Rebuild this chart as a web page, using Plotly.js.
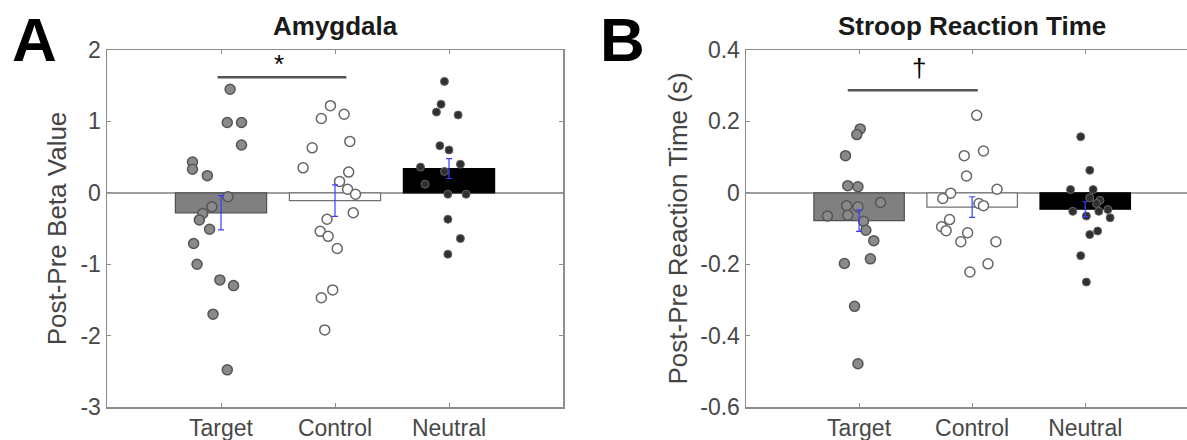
<!DOCTYPE html>
<html>
<head>
<meta charset="utf-8">
<script src="https://cdn.plot.ly/plotly-3.0.1.min.js"></script>
<style>html,body{margin:0;padding:0;background:#fff;}#chart{width:1187px;height:440px;}</style>
</head>
<body>
<div id="chart"></div>
<script>
// ---------- data ----------
const categories = ['Target', 'Control', 'Neutral'];
const catX = [1, 2, 3];

// Panel A: Amygdala (post-pre beta value)
const amyMeans = [-0.28, -0.11, 0.34];
const amySE = [0.24, 0.22, 0.14];
const amyTargetX = [1.08, 1.055, 1.18, 1.18, 0.75, 0.75, 0.88, 1.06, 0.92, 0.84, 0.81, 0.90, 0.76, 0.79, 0.99, 1.11, 0.93, 1.055];
const amyTargetY = [1.45, 0.985, 0.985, 0.67, 0.43, 0.33, 0.24, -0.056, -0.196, -0.29, -0.38, -0.51, -0.71, -1.0, -1.22, -1.30, -1.70, -2.48];
const amyControlX = [1.96, 2.08, 1.88, 2.13, 1.80, 1.72, 2.12, 2.04, 2.11, 2.18, 2.16, 1.93, 1.87, 1.94, 2.02, 1.98, 1.88, 1.91];
const amyControlY = [1.22, 1.10, 1.04, 0.72, 0.63, 0.35, 0.29, 0.16, 0.05, -0.02, -0.28, -0.37, -0.54, -0.61, -0.78, -1.36, -1.47, -1.92];
const amyNeutralX = [2.96, 2.93, 2.89, 3.08, 2.92, 3.00, 3.10, 2.75, 2.96, 2.79, 2.99, 3.15, 2.99, 3.10, 2.99];
const amyNeutralY = [1.56, 1.24, 1.13, 1.09, 0.66, 0.60, 0.40, 0.36, 0.30, 0.12, -0.02, -0.02, -0.37, -0.64, -0.86];
const amySigX = [0.97, 2.10];
const amySigY = [1.62, 1.62];
const amySigMark = {text: '*', x: 1.51, y: 1.80};
const amyTickVals = [-3, -2, -1, 0, 1, 2];
const amyTickText = ['-3', '-2', '-1', '0', '1', '2'];

// Panel B: Stroop reaction time (s)
const rtMeans = [-0.078, -0.040, -0.046];
const rtSE = [0.030, 0.029, 0.021];
const rtTargetX = [1.01, 0.98, 0.88, 0.90, 0.99, 1.19, 0.89, 0.99, 0.72, 0.90, 1.04, 1.06, 1.13, 1.10, 0.87, 0.96, 0.99];
const rtTargetY = [0.179, 0.163, 0.104, 0.020, 0.017, -0.027, -0.036, -0.039, -0.065, -0.063, -0.080, -0.105, -0.134, -0.185, -0.198, -0.318, -0.479];
const rtControlX = [2.04, 2.10, 1.93, 1.95, 2.22, 1.81, 1.74, 2.06, 2.10, 1.80, 1.73, 1.77, 1.96, 1.90, 2.21, 2.14, 1.98];
const rtControlY = [0.217, 0.117, 0.104, 0.047, 0.010, -0.001, -0.016, -0.030, -0.036, -0.075, -0.095, -0.106, -0.112, -0.137, -0.137, -0.199, -0.222];
const rtNeutralX = [2.96, 3.04, 2.87, 3.07, 3.04, 3.13, 3.10, 2.89, 3.12, 3.20, 3.01, 3.22, 3.11, 3.04, 2.96, 3.01];
const rtNeutralY = [0.157, 0.063, 0.009, 0.009, -0.014, -0.021, -0.030, -0.052, -0.052, -0.047, -0.065, -0.070, -0.107, -0.117, -0.176, -0.250];
const rtSigX = [0.90, 2.05];
const rtSigY = [0.287, 0.287];
const rtSigMark = {text: '\u2020', x: 1.53, y: 0.35};
const rtTickVals = [-0.6, -0.4, -0.2, 0, 0.2, 0.4];
const rtTickText = ['-0.6', '-0.4', '-0.2', '0', '0.2', '0.4'];

// ---------- styling ----------
const W = 1187, H = 440;
const FONT = 'Liberation Sans, Arial, Helvetica, sans-serif';
const axisGray = '#8c8c8c';
const tickFont = {family: FONT, size: 23, color: '#484848'};
const barFill = ['#808080', '#ffffff', '#000000'];
const barEdge = ['#505050', '#707070', '#000000'];
const targetMarker = {size: 10, color: '#8a8a8a', line: {color: '#555', width: 1.5}};
const controlMarker = {size: 10, color: '#ffffff', line: {color: '#666', width: 1.5}};
const neutralMarker = {size: 8, color: '#303030', line: {color: '#666', width: 1}};

function panelTraces(xa, ya, means, se, tX, tY, cX, cY, nX, nY, sigX, sigY) {
  return [
    {type: 'bar', x: catX, y: means, width: 0.8, xaxis: xa, yaxis: ya,
     marker: {color: barFill, line: {color: barEdge, width: 1.2}}, hoverinfo: 'skip'},
    {type: 'scatter', mode: 'markers', x: tX, y: tY, xaxis: xa, yaxis: ya, marker: targetMarker, hoverinfo: 'skip'},
    {type: 'scatter', mode: 'markers', x: cX, y: cY, xaxis: xa, yaxis: ya, marker: controlMarker, hoverinfo: 'skip'},
    {type: 'scatter', mode: 'markers', x: nX, y: nY, xaxis: xa, yaxis: ya, marker: neutralMarker, hoverinfo: 'skip'},
    {type: 'scatter', mode: 'markers', x: catX, y: means, xaxis: xa, yaxis: ya,
     marker: {size: 1, color: 'rgba(0,0,0,0)'},
     error_y: {type: 'data', array: se, visible: true, color: '#3c3cff', thickness: 1.2, width: 3}, hoverinfo: 'skip'},
    {type: 'scatter', mode: 'lines', x: sigX, y: sigY, xaxis: xa, yaxis: ya,
     line: {color: '#555', width: 2.5}, hoverinfo: 'skip'}
  ];
}

const data = [].concat(
  panelTraces('x', 'y', amyMeans, amySE, amyTargetX, amyTargetY, amyControlX, amyControlY, amyNeutralX, amyNeutralY, amySigX, amySigY),
  panelTraces('x2', 'y2', rtMeans, rtSE, rtTargetX, rtTargetY, rtControlX, rtControlY, rtNeutralX, rtNeutralY, rtSigX, rtSigY)
);

const yDom = [1 - 407 / H, 1 - 50 / H];
function xAxis(domain, range, mirror) {
  return {domain: domain, range: range, tickvals: catX, ticktext: categories, tickfont: tickFont,
    ticks: 'inside', ticklen: 4, tickcolor: axisGray, tickwidth: 1,
    showline: true, linecolor: axisGray, linewidth: 1.5, mirror: mirror,
    showgrid: false, zeroline: false, fixedrange: true};
}
function yAxis(domain, range, vals, text, title, standoff, mirror) {
  return {domain: domain, range: range, tickvals: vals, ticktext: text, tickfont: tickFont,
    ticks: 'inside', ticklen: 4, tickcolor: axisGray, tickwidth: 1,
    showline: true, linecolor: axisGray, linewidth: 1.5, mirror: mirror,
    showgrid: false, zeroline: true, zerolinecolor: '#a0a0a0', zerolinewidth: 1.5,
    title: {text: title, font: {family: FONT, size: 26, color: '#444'}, standoff: standoff},
    fixedrange: true};
}

const xA = xAxis([107 / W, 563 / W], [0, 4], 'ticks');
xA.anchor = 'y';
const xB = xAxis([746 / W, 1], [0, 3.9], 'ticks');
xB.anchor = 'y2';
const yA = yAxis(yDom, [-3, 2], amyTickVals, amyTickText, 'Post-Pre Beta Value', 6, 'ticks');
yA.anchor = 'x';
const yB = yAxis(yDom, [-0.6, 0.4], rtTickVals, rtTickText, 'Post-Pre Reaction Time (s)', 5, false);
yB.anchor = 'x2';

const layout = {
  width: W, height: H,
  margin: {l: 0, r: 0, t: 0, b: 0, autoexpand: false},
  paper_bgcolor: '#fff', plot_bgcolor: '#fff',
  showlegend: false,
  font: {family: FONT},
  xaxis: xA, yaxis: yA, xaxis2: xB, yaxis2: yB,
  annotations: [
    {text: '<b>A</b>', xref: 'paper', yref: 'paper', x: 10 / W, y: 1 - 3 / H, xanchor: 'left', yanchor: 'top',
     showarrow: false, font: {family: FONT, size: 62, color: '#000'}},
    {text: '<b>B</b>', xref: 'paper', yref: 'paper', x: 598 / W, y: 1 - 3 / H, xanchor: 'left', yanchor: 'top',
     showarrow: false, font: {family: FONT, size: 62, color: '#000'}},
    {text: '<b>Amygdala</b>', xref: 'paper', yref: 'paper', x: 335 / W, y: 1 - 26 / H, xanchor: 'center', yanchor: 'middle',
     showarrow: false, font: {family: FONT, size: 26, color: '#1a1a1a'}},
    {text: '<b>Stroop Reaction Time</b>', xref: 'paper', yref: 'paper', x: 972 / W, y: 1 - 26 / H, xanchor: 'center', yanchor: 'middle',
     showarrow: false, font: {family: FONT, size: 26, color: '#1a1a1a'}},
    {text: amySigMark.text, xref: 'x', yref: 'y', x: amySigMark.x, y: amySigMark.y, xanchor: 'center', yanchor: 'middle',
     showarrow: false, font: {family: FONT, size: 26, color: '#000'}},
    {text: rtSigMark.text, xref: 'x2', yref: 'y2', x: rtSigMark.x, y: rtSigMark.y, xanchor: 'center', yanchor: 'middle',
     showarrow: false, font: {family: FONT, size: 26, color: '#000'}}
  ]
};

Plotly.newPlot('chart', data, layout, {displayModeBar: false, staticPlot: true});
</script>
</body>
</html>
